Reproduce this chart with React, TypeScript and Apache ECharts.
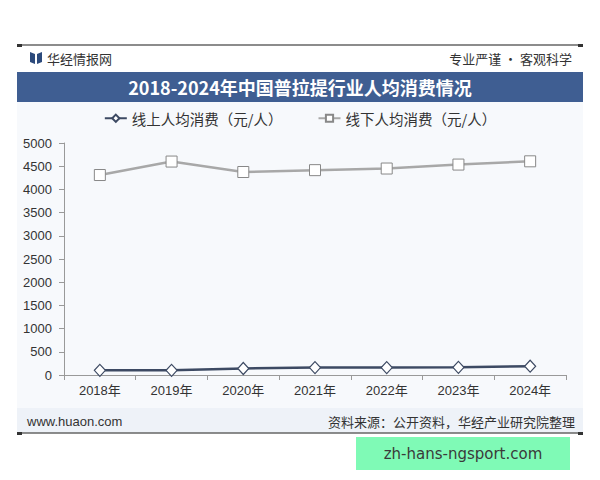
import React, { useEffect, useRef } from "react";
import * as echarts from "echarts";

const years = ["2018年", "2019年", "2020年", "2021年", "2022年", "2023年", "2024年"];
const onlineName = "线上人均消费（元/人）";
const offlineName = "线下人均消费（元/人）";
const onlineValues = [100, 100, 140, 160, 160, 165, 190];
const offlineValues = [4310, 4600, 4375, 4415, 4450, 4535, 4605];
const titleText = "2018-2024年中国普拉提行业人均消费情况";
const headerLeft = "华经情报网";
const headerRight = "专业严谨 • 客观科学";
const footerLeft = "www.huaon.com";
const footerRight = "资料来源：公开资料，华经产业研究院整理";
const stampText = "zh-hans-ngsport.com";

const FONT = "'Liberation Sans', 'Noto Sans CJK SC', sans-serif";

export default function App() {
  const ref = useRef<HTMLDivElement>(null);
  useEffect(() => {
    if (!ref.current) return;
    const chart = echarts.init(ref.current, null, { renderer: "svg" });
    chart.setOption({
      animation: false,
      backgroundColor: "#ffffff",
      textStyle: { fontFamily: FONT },
      graphic: [
        { type: "rect", shape: { x: 17, y: 102, width: 566, height: 306 }, style: { fill: "#f7f9fc" }, z: -10 },
        { type: "rect", shape: { x: 17, y: 408, width: 566, height: 25 }, style: { fill: "#eef2f8" }, z: -10 },
        { type: "line", shape: { x1: 17, y1: 45, x2: 583, y2: 45 }, style: { stroke: "#666", lineWidth: 1.5 } },
        { type: "rect", shape: { x: 17, y: 44, width: 5, height: 3 }, style: { fill: "#333" } },
        { type: "rect", shape: { x: 578, y: 44, width: 5, height: 3 }, style: { fill: "#333" } },
        { type: "line", shape: { x1: 17, y1: 433, x2: 583, y2: 433 }, style: { stroke: "#666", lineWidth: 1.5 } },
        { type: "rect", shape: { x: 17, y: 432, width: 5, height: 3 }, style: { fill: "#333" } },
        { type: "rect", shape: { x: 578, y: 432, width: 5, height: 3 }, style: { fill: "#333" } },
        { type: "polygon", shape: { points: [[30, 52], [35, 54], [35, 64], [30, 62]] }, style: { fill: "#2c4a7c" } },
        { type: "polygon", shape: { points: [[37, 54], [42, 52], [42, 62], [37, 64]] }, style: { fill: "#2c4a7c" } },
        { type: "text", x: 47, y: 58, style: { text: headerLeft, fill: "#333", font: "13px 'Noto Sans CJK SC'", verticalAlign: "middle" } },
        { type: "text", x: 572, y: 58, style: { text: headerRight, fill: "#333", font: "13px 'Noto Sans CJK SC'", align: "right", verticalAlign: "middle" } },
        { type: "rect", shape: { x: 17, y: 72, width: 566, height: 30 }, style: { fill: "#3f5e92" } },
        { type: "text", x: 300, y: 87, style: { text: titleText, fill: "#ffffff", font: "bold 18px 'Noto Sans CJK SC'", align: "center", verticalAlign: "middle" } },
        { type: "text", x: 27, y: 421, style: { text: footerLeft, fill: "#333", font: "13px 'Liberation Sans'", verticalAlign: "middle" } },
        { type: "text", x: 575, y: 421, style: { text: footerRight, fill: "#333", font: "13px 'Noto Sans CJK SC'", align: "right", verticalAlign: "middle" } },
        { type: "rect", shape: { x: 356, y: 437, width: 214, height: 33 }, style: { fill: "#7ffab6" }, z: 10 },
        { type: "text", x: 463, y: 453.5, z: 11, style: { text: stampText, fill: "#3a3a3a", font: "15px 'DejaVu Sans'", align: "center", verticalAlign: "middle" } },
      ],
      legend: {
        top: 106,
        left: "center",
        itemWidth: 22,
        itemHeight: 9,
        itemGap: 35,
        textStyle: { fontSize: 14.5, color: "#333", fontFamily: "'Noto Sans CJK SC'" },
        data: [onlineName, offlineName],
      },
      grid: { left: 64, right: 34, top: 143, bottom: 105, containLabel: false },
      xAxis: {
        type: "category",
        data: years,
        boundaryGap: true,
        axisLine: { lineStyle: { color: "#999" } },
        axisTick: { show: true, lineStyle: { color: "#999" } },
        axisLabel: { color: "#333", fontSize: 13, margin: 9, fontFamily: FONT },
      },
      yAxis: {
        type: "value",
        min: 0,
        max: 5000,
        interval: 500,
        axisLine: { show: true, lineStyle: { color: "#999" } },
        axisTick: { show: true, lineStyle: { color: "#999" } },
        splitLine: { show: false },
        axisLabel: { color: "#333", fontSize: 13, margin: 12, fontFamily: FONT, formatter: (v: number) => String(v) },
      },
      series: [
        {
          name: onlineName,
          type: "line",
          data: onlineValues,
          symbol: "diamond",
          symbolSize: [11, 12],
          lineStyle: { color: "#3d4a63", width: 2.5 },
          itemStyle: { color: "#ffffff", borderColor: "#3d4a63", borderWidth: 1.2 },
        },
        {
          name: offlineName,
          type: "line",
          data: offlineValues,
          symbol: "rect",
          symbolSize: 11,
          lineStyle: { color: "#a8a8a8", width: 2.5 },
          itemStyle: { color: "#ffffff", borderColor: "#888", borderWidth: 1 },
        },
      ],
    });
    return () => chart.dispose();
  }, []);
  return <div ref={ref} style={{ position: "absolute", left: 0, top: 0, width: 600, height: 480 }} />;
}
